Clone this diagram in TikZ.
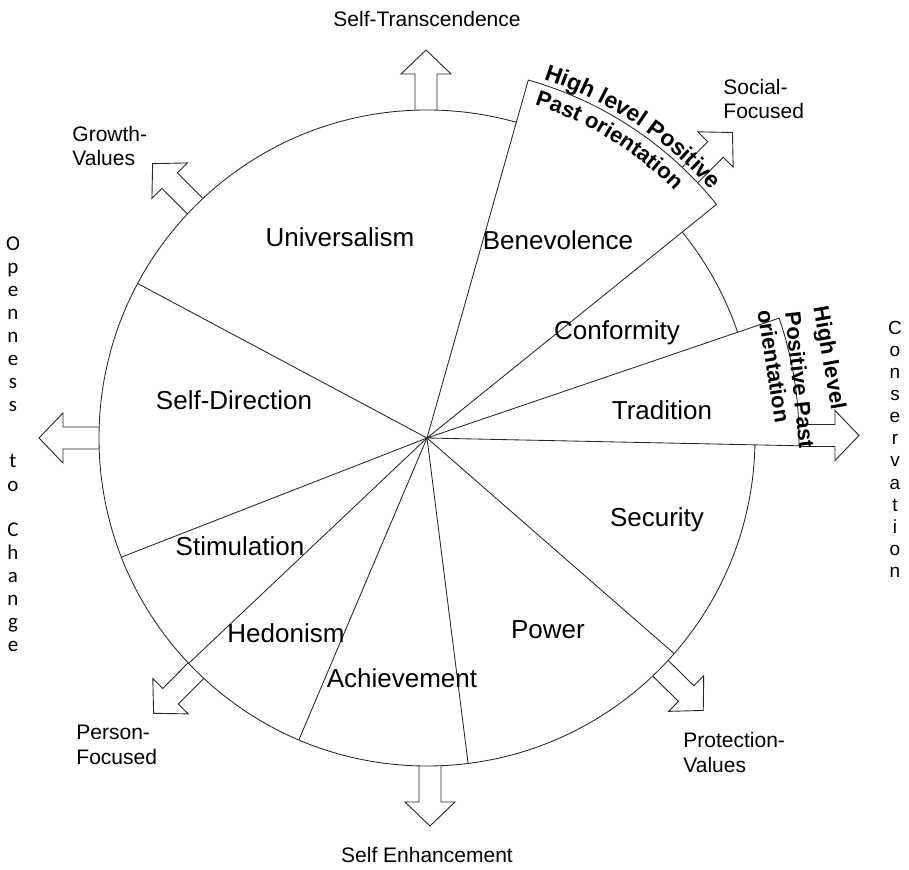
\documentclass[tikz,border=0pt]{standalone}
\usepackage{fontspec}
\setmainfont{Liberation Sans}
\newfontfamily\calib{Carlito}
\usetikzlibrary{decorations.text}
\newcommand\blockarrow[3]{%
  \draw[barrow, rotate=#1] (#2,#3+11) -- (#2+36,#3+11) -- (#2+36,#3+25) -- (#2+60,#3)
    -- (#2+36,#3-25) -- (#2+36,#3-11) -- (#2,#3-11);}
\begin{document}
\begin{tikzpicture}[x=1pt,y=1pt,line width=0.85pt,
  lbl/.style={font=\fontsize{26}{28}\selectfont, inner sep=0pt},
  outer/.style={font=\fontsize{21}{24.5}\selectfont, inner sep=0pt, align=left},
  vlet/.style={font=\fontsize{19}{19}\selectfont, inner sep=0pt, anchor=base},
  vletc/.style={font=\calib\fontsize{21}{21}\selectfont, inner sep=0pt, anchor=base},
  hl/.style={font=\fontsize{22}{22}\selectfont\bfseries, inner sep=0pt},
  barrow/.style={draw=black!85, line width=0.9pt, line join=miter},
  spoke/.style={draw=black!85, line width=0.85pt}]
\useasboundingbox (-427,-431) rectangle (482,438);
\coordinate (O) at (0,0);
% circle
\draw[spoke] (O) circle[radius=328];
% highlighted sectors
\filldraw[fill=white, spoke] (O) -- (74.2:372) coordinate (a1) arc[start angle=74.2, end angle=38.9, radius=372] coordinate (a2) -- cycle;
\filldraw[fill=white, spoke] (O) -- (18.8:372) coordinate (b1) arc[start angle=18.8, end angle=-1.2, radius=372] coordinate (b2) -- cycle;
% spokes
\foreach \a [count=\i] in {-41.1,-82.8,-113,-136.6,-158.7,151.9} {
  \coordinate (s\i) at (\a:328);
  \draw[spoke] (O) -- (s\i);
}
% block arrows
\blockarrow{90}{328}{1}
\blockarrow{-90}{328}{3}
\blockarrow{180}{328}{0}
\blockarrow{0}{372}{2.5}
\blockarrow{45}{372}{0}
\blockarrow{135}{328}{0}
\blockarrow{-44.6}{328}{0}
\blockarrow{-134.8}{328}{0}
% curved texts on upper sector
\path[decorate, decoration={text along path, text align=center,
  text={|\fontsize{23}{23}\selectfont\bfseries|High level Positive}}]
  (74.2:377) arc[start angle=74.2, end angle=38.9, radius=377];
\path[decorate, decoration={text along path, text align=center,
  text={|\fontsize{22}{22}\selectfont\bfseries|Past orientation}}]
  (76:350) arc[start angle=76, end angle=41, radius=350];
% texts on tradition sector
\node[hl, rotate=-80] (t1) at (401,80) {High level};
\node[hl, rotate=-84] (t2) at (373,58) {Positive Past};
\node[hl, rotate=-81] (t3) at (347,72) {orientation};
% inner labels
\node[lbl] (universalism) at (-87,201) {Universalism};
\node[lbl] (benevolence) at (131,198) {Benevolence};
\node[lbl] (conformity) at (190,105) {Conformity};
\node[lbl] (tradition) at (235,28) {Tradition};
\node[lbl] (security) at (230,-82) {Security};
\node[lbl] (power) at (121,-192) {Power};
\node[lbl] (achievement) at (-25,-240) {Achievement};
\node[lbl] (hedonism) at (-141,-195) {Hedonism};
\node[lbl] (stimulation) at (-187,-108) {Stimulation};
\node[lbl] (selfdirection) at (-193,38) {Self-Direction};
% outer labels
\node[outer] (st) at (0,419) {Self-Transcendence};
\node[outer] (se) at (0,-417) {Self Enhancement};
\node[outer, anchor=west] (sf) at (296,339) {Social-\\Focused};
\node[outer, anchor=west] (gv) at (-355,292) {Growth-\\Values};
\node[outer, anchor=west] (pf) at (-351,-307) {Person-\\Focused};
\node[outer, anchor=west] (pv) at (256,-314.5) {Protection-\\Values};
% vertical words
\foreach \ch/\yy [count=\i] in {O/245,p/268,e/291,n/314,n/337,e/360,s/383,s/406,t/462,o/485,C/530,h/553,a/576,n/599,g/622,e/645}
  \node[vletc] (oc\i) at (-414,438-\yy-6) {\ch};
\foreach \ch/\yy [count=\i] in {C/329,o/351,n/373,s/395,e/417,r/439,v/461,a/483,t/505,i/527,o/549,n/571}
  \node[vlet] (cv\i) at (468,438-\yy-6) {\ch};
\end{tikzpicture}
\end{document}
